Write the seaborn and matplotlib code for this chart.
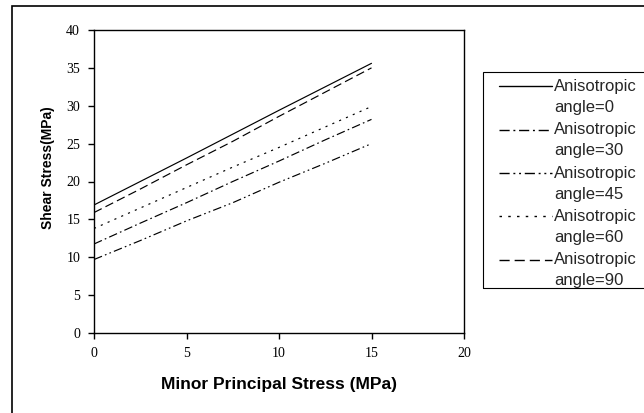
import matplotlib
matplotlib.use("Agg")
import numpy as np
import matplotlib.pyplot as plt
import seaborn as sns
import pandas as pd
from matplotlib.patches import Rectangle
from matplotlib.legend_handler import HandlerLine2D

# ---- data ----
minor_stress = [0, 2.5, 5, 7.5, 10, 12.5, 15]
angle_0 = [16.9, 20.0, 23.1, 26.25, 29.4, 32.5, 35.6]
angle_30 = [11.75, 14.5, 17.2, 20.0, 22.7, 25.5, 28.2]
angle_45 = [9.7, 12.2, 14.8, 17.2, 19.9, 22.4, 25.0]
angle_60 = [13.8, 16.5, 19.2, 21.9, 24.5, 27.2, 29.9]
angle_90 = [15.9, 19.0, 22.2, 25.3, 28.6, 31.8, 35.0]
series_labels = ["Anisotropic\nangle=0", "Anisotropic\nangle=30", "Anisotropic\nangle=45",
                 "Anisotropic\nangle=60", "Anisotropic\nangle=90"]
x_ticks = [0, 5, 10, 15, 20]
y_ticks = [0, 5, 10, 15, 20, 25, 30, 35, 40]

rows = []
for lab, vals in zip(series_labels, [angle_0, angle_30, angle_45, angle_60, angle_90]):
    for xv, yv in zip(minor_stress, vals):
        rows.append({"x": xv, "y": yv, "series": lab})
df = pd.DataFrame(rows)

sns.set_theme(style="white")
plt.rcParams["font.family"] = ["Liberation Sans", "DejaVu Sans"]

W, H = 644, 413
fig = plt.figure(figsize=(W / 100, H / 100), dpi=100)
fig.patch.set_facecolor("white")

ax = fig.add_axes([94 / W, 1 - 333 / H, (464 - 94) / W, (333 - 30) / H])

dash_styles = {
    series_labels[0]: "",
    series_labels[1]: (7.3, 2.7, 1.4, 2.7),
    series_labels[2]: (7.3, 2.7, 1.4, 2.7, 1.4, 2.7),
    series_labels[3]: (1.8, 4.5),
    series_labels[4]: (7.3, 3.6),
}
sns.lineplot(data=df, x="x", y="y", style="series", dashes=dash_styles,
             color="black", linewidth=0.85, ax=ax, legend=True)

ax.set_xlim(0, 20)
ax.set_ylim(0, 40)
ax.set_xticks(x_ticks)
ax.set_yticks(y_ticks)
for s in ax.spines.values():
    s.set_color("black")
    s.set_linewidth(1.0)
ax.tick_params(axis="both", which="both", direction="out", length=4, width=1,
               color="black", bottom=True, left=True, top=False, right=False, pad=6)
for lbl in ax.get_xticklabels() + ax.get_yticklabels():
    lbl.set_fontfamily("Liberation Serif")
    lbl.set_fontsize(10)
    lbl.set_color("black")
ax.set_xlabel("")
ax.set_ylabel("")

fig.text(279 / W, 1 - 385 / H, "Minor Principal Stress (MPa)", ha="center", va="center",
         fontsize=12.5, fontweight="bold", color="black")
fig.text(48 / W, 1 - 168 / H, "Shear Stress(MPa)", ha="center", va="center",
         rotation=90, fontsize=10, fontweight="bold", color="black")


class FirstLineHandler(HandlerLine2D):
    def create_artists(self, legend, orig_handle, xdescent, ydescent, width, height,
                       fontsize, trans):
        arts = super().create_artists(legend, orig_handle, xdescent, ydescent, width,
                                      height, fontsize, trans)
        for a in arts:
            a.set_ydata(np.asarray(a.get_ydata()) + 7.9)
        return arts


handles, labels = ax.get_legend_handles_labels()
leg = ax.legend(handles, labels, loc="upper left", bbox_to_anchor=(499 / W, 1 - 79 / H),
                bbox_transform=fig.transFigure, frameon=False, borderpad=0,
                borderaxespad=0, fontsize=12, handlelength=3.2, handletextpad=0.1,
                labelspacing=0.44, handler_map={h: FirstLineHandler() for h in handles})
for t in leg.get_texts():
    t.set_linespacing(1.5)
for h in leg.get_lines():
    h.set_linewidth(1.0)

# legend frame and outer chart frame
fig.patches.append(Rectangle((483 / W, 1 - 288 / H), (700 - 483) / W, (288 - 72) / H,
                             transform=fig.transFigure, fill=False, edgecolor="black",
                             linewidth=0.8))
fig.patches.append(Rectangle((12 / W, -0.1), 1.2, 1.1 - 6 / H,
                             transform=fig.transFigure, fill=False, edgecolor="black",
                             linewidth=1.2))

fig.savefig("out.png", dpi=100)
